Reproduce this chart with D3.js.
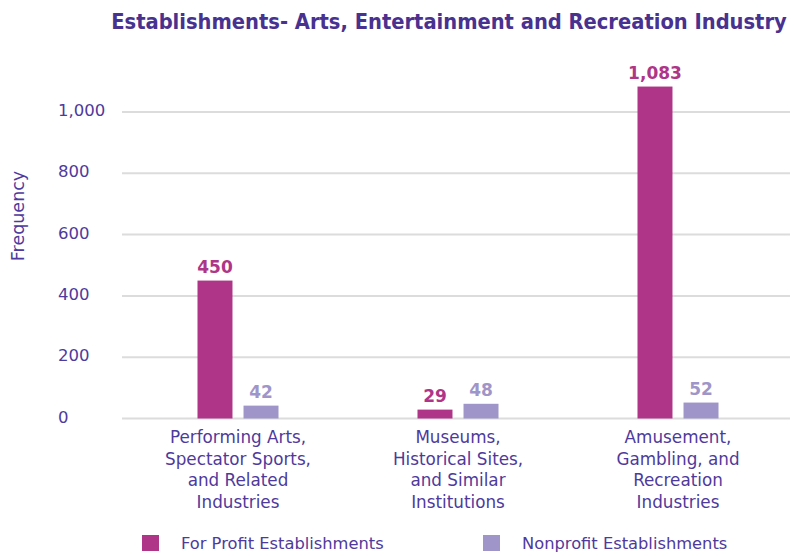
<!DOCTYPE html>
<html>
<head>
<meta charset="utf-8">
<script src="https://cdn.jsdelivr.net/npm/d3@7"></script>
<style>
  html, body { margin: 0; padding: 0; background: #fff; }
  svg { display: block; font-family: "DejaVu Sans", sans-serif; }
</style>
</head>
<body>
<svg id="chart" width="796" height="556"></svg>
<script>
// Establishment counts by industry group
const categories = [
  ["Performing Arts,", "Spectator Sports,", "and Related", "Industries"],
  ["Museums,", "Historical Sites,", "and Similar", "Institutions"],
  ["Amusement,", "Gambling, and", "Recreation", "Industries"]
];
const seriesNames = ["For Profit Establishments", "Nonprofit Establishments"];
const forProfit = [450, 29, 1083];
const nonprofit = [42, 48, 52];
const yTicks = [0, 200, 400, 600, 800, 1000];

const colors = ["#AE3587", "#9F95C8"];
const textPurple = "#4E3A9C";
const titleColor = "#48318F";

const svg = d3.select("#chart");

const margin = { top: 112, bottom: 418.5, left: 122, right: 790 };
const y = d3.scaleLinear().domain([0, 1000]).range([margin.bottom, margin.top]);

const catIdx = d3.range(categories.length);
const x0 = d3.scaleBand().domain(catIdx).range([128, 788]).paddingInner(0).paddingOuter(0);
const x1 = d3.scaleBand().domain([0, 1]).range([-40.5, 40.5]).paddingInner(0.24).paddingOuter(0);

// Title, sized so that it spans the wanted width
const title = svg.append("text")
  .attr("x", 449).attr("y", 29)
  .attr("text-anchor", "middle")
  .attr("fill", titleColor)
  .style("font-family", '"DejaVu Sans Condensed", "DejaVu Sans", sans-serif')
  .attr("font-size", 20)
  .attr("font-weight", "bold")
  .text("Establishments- Arts, Entertainment and Recreation Industry");
const titleWidth = title.node().getComputedTextLength();
title.attr("font-size", Math.min(22, 20 * 676 / titleWidth));

// Gridlines
svg.append("g")
  .selectAll("line")
  .data(yTicks)
  .join("line")
  .attr("x1", margin.left).attr("x2", margin.right)
  .attr("y1", d => y(d)).attr("y2", d => y(d))
  .attr("stroke", "#DCDCDC")
  .attr("stroke-width", 2);

// Y tick labels
const fmt = d3.format(",");
svg.append("g")
  .selectAll("text")
  .data(yTicks)
  .join("text")
  .attr("x", 58)
  .attr("y", d => y(d) + 4)
  .attr("fill", textPurple)
  .attr("font-size", 16.5)
  .text(d => fmt(d));

// Y axis title
svg.append("text")
  .attr("transform", "translate(24,216) rotate(-90)")
  .attr("text-anchor", "middle")
  .attr("fill", textPurple)
  .attr("font-size", 17.5)
  .text("Frequency");

// Bars
const rows = catIdx.map(i => [forProfit[i], nonprofit[i]]);
const groups = svg.append("g")
  .selectAll("g")
  .data(rows)
  .join("g")
  .attr("transform", (d, i) => `translate(${x0(i) + x0.bandwidth() / 2},0)`);

groups.selectAll("rect")
  .data(d => d.map((v, s) => ({ v, s })))
  .join("rect")
  .attr("x", d => x1(d.s))
  .attr("width", x1.bandwidth())
  .attr("y", d => y(d.v))
  .attr("height", d => y(0) - y(d.v))
  .attr("fill", d => colors[d.s]);

groups.selectAll("text.val")
  .data(d => d.map((v, s) => ({ v, s })))
  .join("text")
  .attr("class", "val")
  .attr("x", d => x1(d.s) + x1.bandwidth() / 2)
  .attr("y", d => y(d.v) - 8)
  .attr("text-anchor", "middle")
  .attr("fill", d => colors[d.s])
  .attr("font-size", 17)
  .attr("font-weight", "bold")
  .text(d => fmt(d.v));

// Category labels
const catLabels = svg.append("g")
  .selectAll("text")
  .data(categories)
  .join("text")
  .attr("x", (d, i) => x0(i) + x0.bandwidth() / 2)
  .attr("y", 443)
  .attr("text-anchor", "middle")
  .attr("fill", textPurple)
  .attr("font-size", 16.8);
catLabels.selectAll("tspan")
  .data(d => d)
  .join("tspan")
  .attr("x", function () { return d3.select(this.parentNode).attr("x"); })
  .attr("dy", (d, i) => i === 0 ? 0 : 21.7)
  .text(d => d);

// Legend
const legendX = [142, 483];
const legend = svg.append("g")
  .selectAll("g")
  .data(seriesNames)
  .join("g")
  .attr("transform", (d, i) => `translate(${legendX[i]},535)`);
legend.append("rect")
  .attr("width", 17).attr("height", 16)
  .attr("fill", (d, i) => colors[i]);
legend.append("text")
  .attr("x", 39).attr("y", 14)
  .attr("fill", textPurple)
  .attr("font-size", 16.3)
  .text(d => d);
</script>
</body>
</html>
